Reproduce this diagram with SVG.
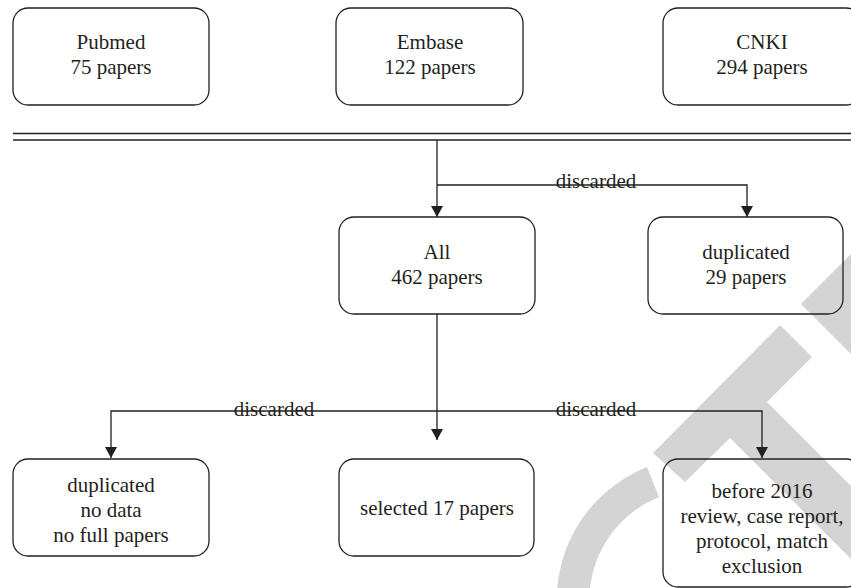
<svg xmlns="http://www.w3.org/2000/svg" width="851" height="588" viewBox="0 0 851 588" font-family="'Liberation Serif', 'DejaVu Serif', serif">
<style>
.box{fill:none;stroke:#231f20;stroke-width:1.3}
.ln{fill:none;stroke:#231f20;stroke-width:1.3}
.t{font-family:'Liberation Serif','DejaVu Serif',serif;font-size:21px;fill:#231f20;text-anchor:middle}
.wm{fill:#d4d4d4}
</style>
<defs>
<marker id="arr" markerUnits="userSpaceOnUse" markerWidth="14" markerHeight="13" refX="11" refY="6" orient="auto">
<path d="M0,0 L11,6 L0,12 Z" fill="#231f20"/>
</marker>
</defs>
<rect width="851" height="588" fill="#ffffff"/>
<g id="watermark">
<polygon class="wm" points="780,325 812,357 767,402 900,535 900,608 730,438 685,482 653,453"/>
<polygon class="wm" points="801,304 880,225 880,383"/>
<path class="wm" d="M647,467 A143,143 0 0 0 559,625 L591,619 A111,111 0 0 1 659,497 Z"/>
</g>
<g id="separator">
<line class="ln" x1="13" y1="133.5" x2="851" y2="133.5"/>
<line class="ln" x1="13" y1="140" x2="851" y2="140"/>
</g>
<g id="connectors">
<path class="ln" d="M437,140 V217" marker-end="url(#arr)"/>
<path class="ln" d="M437,185 H747 V217" marker-end="url(#arr)"/>
<path class="ln" d="M437,314 V440" marker-end="url(#arr)"/>
<path class="ln" d="M437,411 H111 V458" marker-end="url(#arr)"/>
<path class="ln" d="M437,411 H762 V458" marker-end="url(#arr)"/>
<text class="t" x="596" y="188">discarded</text>
<text class="t" x="274" y="416">discarded</text>
<text class="t" x="596" y="416">discarded</text>
</g>
<g id="pubmed">
<rect class="box" x="13" y="8" width="196" height="97" rx="15"/>
<text class="t" x="111" y="49">Pubmed</text>
<text class="t" x="111" y="74">75 papers</text>
</g>
<g id="embase">
<rect class="box" x="336" y="8" width="187" height="97" rx="15"/>
<text class="t" x="430" y="49">Embase</text>
<text class="t" x="430" y="74">122 papers</text>
</g>
<g id="cnki">
<rect class="box" x="663" y="8" width="198" height="97" rx="15"/>
<text class="t" x="762" y="49">CNKI</text>
<text class="t" x="762" y="74">294 papers</text>
</g>
<g id="all">
<rect class="box" x="339" y="217" width="196" height="97" rx="15"/>
<text class="t" x="437" y="259">All</text>
<text class="t" x="437" y="284">462 papers</text>
</g>
<g id="dup1">
<rect class="box" x="648" y="217" width="195" height="97" rx="15"/>
<text class="t" x="746" y="259">duplicated</text>
<text class="t" x="746" y="284">29 papers</text>
</g>
<g id="excl1">
<rect class="box" x="13" y="459" width="196" height="97" rx="15"/>
<text class="t" x="111" y="492">duplicated</text>
<text class="t" x="111" y="517">no data</text>
<text class="t" x="111" y="542">no full papers</text>
</g>
<g id="selected">
<rect class="box" x="339" y="459" width="195" height="97" rx="15"/>
<text class="t" x="437" y="515">selected 17 papers</text>
</g>
<g id="excl2">
<rect class="box" x="663" y="459" width="198" height="128" rx="15"/>
<text class="t" x="762" y="498">before 2016</text>
<text class="t" x="762" y="523">review, case report,</text>
<text class="t" x="762" y="548">protocol, match</text>
<text class="t" x="762" y="573">exclusion</text>
</g>
</svg>
